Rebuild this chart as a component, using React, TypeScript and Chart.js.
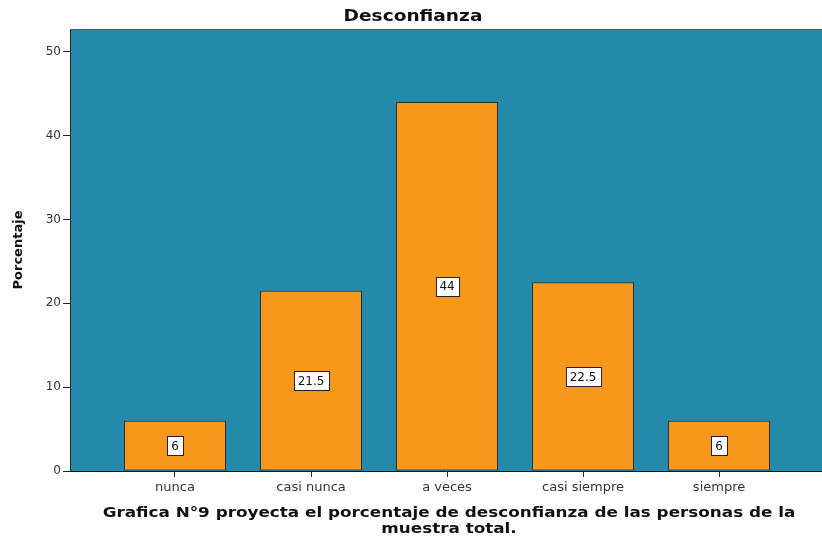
import React, { useEffect, useRef } from "react";
import { Chart, registerables } from "chart.js";

Chart.register(...registerables);

const categories = ["nunca", "casi nunca", "a veces", "casi siempre", "siempre"];
const percentages = [6, 21.5, 44, 22.5, 6];
const yTicks = [0, 10, 20, 30, 40, 50];

const chartTitle = "Desconfianza";
const yAxisTitle = "Porcentaje";
const captionLines = [
  "Grafica N°9 proyecta el porcentaje de desconfianza de las personas de la",
  "muestra total.",
];

const FONT = "'DejaVu Sans', Verdana, sans-serif";

// Draws centred text with a slight horizontal stretch (wide export style).
function wideText(ctx: CanvasRenderingContext2D, text: string, cx: number, cy: number, stretch: number) {
  ctx.save();
  ctx.translate(cx, cy);
  ctx.scale(stretch, 1);
  ctx.fillText(text, 0, 0);
  ctx.restore();
}

// Plot background, frame, value boxes and the caption text.
const decorations = {
  id: "decorations",
  beforeDraw(chart: any) {
    const { ctx, chartArea: a } = chart;
    ctx.save();
    ctx.fillStyle = "#238AAB";
    ctx.fillRect(a.left, a.top, a.right - a.left, a.bottom - a.top);
    ctx.restore();
  },
  afterDatasetsDraw(chart: any) {
    const { ctx } = chart;
    const meta = chart.getDatasetMeta(0);
    ctx.save();
    ctx.font = `12px ${FONT}`;
    ctx.textAlign = "center";
    ctx.textBaseline = "middle";
    meta.data.forEach((bar: any, i: number) => {
      const label = String(percentages[i]);
      const w = Math.round(ctx.measureText(label).width + 8);
      const h = 19;
      const cx = bar.x;
      const cy = (bar.y + bar.base) / 2;
      const x0 = Math.round(cx - w / 2) + 0.5;
      const y0 = Math.round(cy - h / 2) + 0.5;
      ctx.fillStyle = "#ffffff";
      ctx.fillRect(x0, y0, w, h);
      ctx.strokeStyle = "#222";
      ctx.lineWidth = 1;
      ctx.strokeRect(x0, y0, w, h);
      ctx.fillStyle = "#111";
      ctx.fillText(label, cx, cy + 1);
    });
    ctx.restore();
  },
  afterDraw(chart: any) {
    const { ctx, chartArea: a } = chart;
    ctx.save();
    ctx.strokeStyle = "#555";
    ctx.lineWidth = 1;
    ctx.beginPath();
    ctx.moveTo(a.left, a.top + 0.5);
    ctx.lineTo(a.right, a.top + 0.5);
    ctx.stroke();

    ctx.fillStyle = "#111";
    ctx.textAlign = "center";
    ctx.textBaseline = "middle";
    ctx.font = `bold 16px ${FONT}`;
    wideText(ctx, chartTitle, 413, 17, 1.16);

    ctx.font = `bold 14px ${FONT}`;
    wideText(ctx, captionLines[0], 449, 513, 1.2);
    wideText(ctx, captionLines[1], 449, 529, 1.2);
    ctx.restore();
  },
};

export default function App() {
  const ref = useRef<HTMLCanvasElement | null>(null);

  useEffect(() => {
    if (!ref.current) return;
    const chart = new Chart(ref.current, {
      type: "bar",
      data: {
        datasets: [
          {
            data: percentages.map((v, i) => ({ x: i, y: v })),
            backgroundColor: "#F7981D",
            borderColor: "#2a2a2a",
            borderWidth: 1,
            borderSkipped: false,
            barPercentage: 0.75,
            categoryPercentage: 1,
          },
        ],
      },
      options: {
        animation: false,
        responsive: false,
        layout: { padding: { top: 29, right: 0, left: 0, bottom: 0 } },
        plugins: {
          legend: { display: false },
          tooltip: { enabled: false },
          title: { display: false },
        },
        scales: {
          x: {
            type: "linear",
            min: -0.772,
            max: 4.757,
            offset: false,
            afterBuildTicks: (scale: any) => {
              scale.ticks = categories.map((_, i) => ({ value: i }));
            },
            afterFit: (scale: any) => {
              scale.height = 68;
            },
            ticks: {
              autoSkip: false,
              maxRotation: 0,
              padding: 3,
              color: "#333",
              font: { family: FONT, size: 13 },
              callback: (v: any) => categories[v] ?? "",
            },
            grid: {
              offset: false,
              drawOnChartArea: false,
              drawTicks: true,
              tickLength: 6,
              color: "#222",
            },
            border: { display: true, color: "#111", width: 1 },
          },
          y: {
            min: 0,
            max: 52.7,
            afterBuildTicks: (scale: any) => {
              scale.ticks = yTicks.map((v) => ({ value: v }));
            },
            afterFit: (scale: any) => {
              scale.width = 70;
            },
            ticks: {
              padding: 2,
              color: "#333",
              font: { family: FONT, size: 12 },
            },
            grid: {
              drawOnChartArea: false,
              drawTicks: true,
              tickLength: 7,
              color: "#222",
            },
            border: { display: true, color: "#222", width: 1 },
            title: {
              display: true,
              text: yAxisTitle,
              color: "#111",
              font: { family: FONT, size: 13, weight: "bold" },
              padding: { top: 11, bottom: 0 },
            },
          },
        },
      },
      plugins: [decorations],
    } as any);
    return () => chart.destroy();
  }, []);

  return (
    <div style={{ position: "fixed", left: 0, top: 0, width: 822, height: 539, background: "#fff" }}>
      <canvas ref={ref} width={822} height={539} style={{ display: "block" }} />
    </div>
  );
}
